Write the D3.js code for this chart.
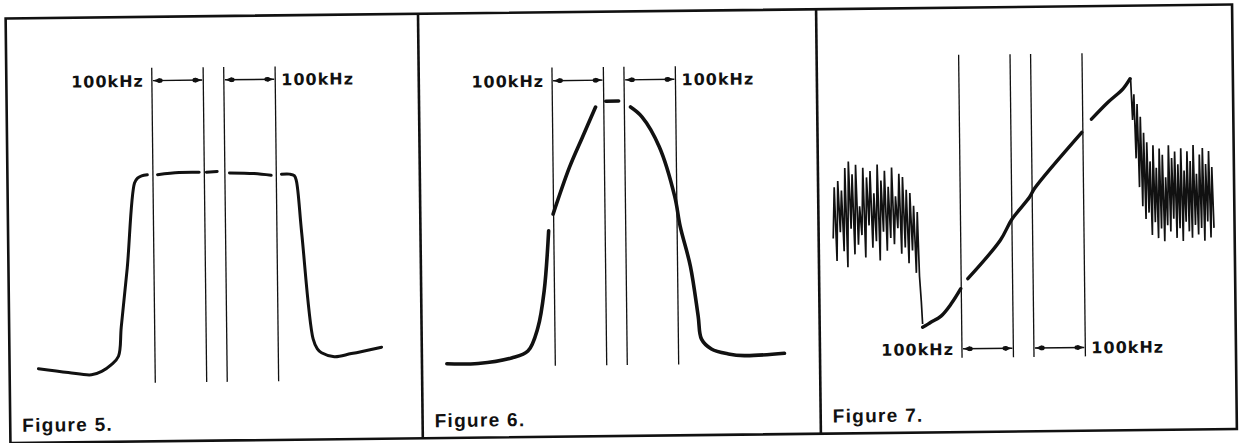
<!DOCTYPE html>
<html>
<head>
<meta charset="utf-8">
<script src="https://cdn.jsdelivr.net/npm/d3@7"></script>
<style>
  html, body { margin: 0; padding: 0; background: #fff; }
  svg { display: block; }
</style>
</head>
<body>
<svg id="chart" width="1242" height="443"></svg>
<script>
// Captions and annotation text
const figureLabels = ['Figure 5.', 'Figure 6.', 'Figure 7.'];
const markerKHz = [-120, -20, 20, 120];
const spanLabel = '100kHz';

// Figure 5 - flat topped passband. Offset in kHz, level 0..100 (screen units), null = break in trace
const fig5Freq = [-347, -289, -244, -224, -205, -191, -185, -172, -156, -150, -142, -131, null,
  -111, -69, -30, null, -16, 5, null, 29, 77, 110, null,
  130, 146, 155, 159, 168, 188, 196, 204, 229, 262, 321];
const fig5Level = [7.3, 6.0, 5.2, 6.25, 8.3, 10.9, 20, 38.5, 65, 66.5, 67.2, 67.5, null,
  67.5, 68.1, 68.1, null, 68.1, 68.3, null, 67.8, 67.5, 66.9, null,
  67.2, 67.2, 66.7, 65, 49, 15.6, 12.5, 11.25, 10, 10.9, 12.8];

// Figure 6 - peaked response
const fig6Freq = [-331, -270, -205, -173, -153, -140, -130, null,
  -121, -88, -62, -36, null, -16, 9, null,
  32, 54, 87, 116, 126, 145, 159, 165, 184, 217, 248, 326];
const fig6Level = [8.8, 8.8, 10.4, 12.5, 19.8, 31.3, 50, null,
  55.2, 69.8, 79.2, 88.5, null, 90.3, 90.3, null,
  88.4, 85.3, 75.9, 60.3, 50.9, 38.4, 22.8, 15.6, 12.5, 10.9, 10.3, 10.9];

// Figure 7 - discriminator ramp with noise outside the band
const fig7RampFreq = [-196, -190, -180, -160, -140, -121, null, -107, -43, -20, 15, 25, 118, null, 137, 170, 199, 213];
const fig7RampLevel = [20, 20.5, 21.5, 23.4, 27.2, 31.9, null, 35, 46.9, 53.4, 60.3, 63, 80.3, null, 84.4, 89.7, 93.75, 96.9];

const fig7NoiseLeftFreq = [-368, -365, -361, -358, -354, -351, -347, -344, -340, -337, -333, -330,
  -326, -323, -319, -316, -312, -309, -305, -302, -298, -295, -291, -288, -284, -281, -277, -274,
  -270, -267, -263, -260, -256, -253, -249, -246, -242, -239, -235, -232, -228, -225, -221, -218,
  -214, -211, -207, -204, -201, -198, -196];
const fig7NoiseLeftLevel = [48, 64, 41, 66, 50, 63, 44, 70, 39, 72, 51, 68, 43, 71, 46, 58, 49, 70,
  42, 67, 52, 69, 45, 62, 47, 71, 41, 66, 50, 69, 44, 64, 48, 70, 46, 61, 51, 68, 43, 67,
  45, 63, 40, 62, 44, 58, 37, 56, 36, 28, 21];

const fig7NoiseRightFreq = [214, 217, 220, 223, 226, 229, 232, 235, 238, 241, 244, 247, 250, 253,
  256, 259, 262, 265, 268, 271, 274, 277, 280, 283, 286, 289, 292, 295, 298, 301, 304, 307, 310,
  313, 316, 319, 322, 325, 328, 331, 334, 337, 340, 343, 346, 349, 352, 355, 358, 361, 364, 367, 370, 373];
const fig7NoiseRightLevel = [97, 84, 92, 72, 89, 63, 85, 57, 80, 53, 77, 55, 71, 48, 76, 52, 69, 47,
  75, 50, 73, 46, 66, 51, 76, 49, 72, 53, 74, 47, 70, 50, 75, 46, 68, 52, 74, 49, 71, 47,
  76, 51, 67, 48, 73, 50, 75, 46, 70, 52, 74, 47, 69, 50];

// ---- layout (the scan is tilted slightly, so everything sits in a rotated group)
const width = 1242;
const height = 443;
const ink = '#111';
const frame = { left: 8, top: 11.5, right: 1234.5, bottom: 436 };
const dividers = [420.4, 818.5];
const panelLeft = [frame.left, dividers[0], dividers[1]];
const pxPerKHz = 0.514;

const panels = [
  { cx: 215.2, dy: -4.6, top: 100.9, bottom: 2.5, span: 96.9, width: 3 },
  { cx: 615.4, dy: 0, top: 101, bottom: 7.8, span: 96.9, width: 3.6 },
  { cx: 1022.2, dy: 4.6, top: 105, bottom: 10.3, span: 13.1, width: 3.4 },
];

panels.forEach((p) => {
  p.x = d3.scaleLinear().domain([-400, 400]).range([p.cx - 400 * pxPerKHz, p.cx + 400 * pxPerKHz]);
  p.y = d3.scaleLinear().domain([0, 100]).range([390 + p.dy, 70 + p.dy]);
});

const svg = d3.select('#chart');

// arrow head with a bead behind it, as in the scanned drawing
const defs = svg.append('defs');
['start', 'end'].forEach((k) => {
  const m = defs.append('marker')
    .attr('id', `arrow-${k}`)
    .attr('viewBox', '0 0 12 8')
    .attr('refX', k === 'end' ? 12 : 0)
    .attr('refY', 4)
    .attr('markerWidth', 12)
    .attr('markerHeight', 8)
    .attr('markerUnits', 'userSpaceOnUse')
    .attr('orient', 'auto');
  m.append('path')
    .attr('d', k === 'end' ? 'M12,4L5,1.6L5,6.4Z' : 'M0,4L7,1.6L7,6.4Z')
    .attr('fill', ink);
  m.append('ellipse')
    .attr('cx', k === 'end' ? 5 : 7)
    .attr('cy', 4)
    .attr('rx', 2.8)
    .attr('ry', 2.3)
    .attr('fill', ink);
});

const root = svg.append('g')
  .attr('transform', `rotate(-0.65 ${width / 2} 224)`);

// outer frame and panel dividers
root.append('rect')
  .attr('x', frame.left)
  .attr('y', frame.top)
  .attr('width', frame.right - frame.left)
  .attr('height', frame.bottom - frame.top)
  .attr('fill', 'none')
  .attr('stroke', ink)
  .attr('stroke-width', 2.6);

root.selectAll('line.divider')
  .data(dividers)
  .enter()
  .append('line')
  .attr('class', 'divider')
  .attr('x1', (d) => d)
  .attr('x2', (d) => d)
  .attr('y1', frame.top)
  .attr('y2', frame.bottom)
  .attr('stroke', ink)
  .attr('stroke-width', 2.6);

const toPoints = (freq, level) => freq.map((f, i) => ({ f, l: level[i] }));

const traces = [
  [toPoints(fig5Freq, fig5Level)],
  [toPoints(fig6Freq, fig6Level)],
  [toPoints(fig7RampFreq, fig7RampLevel)],
];
const noise = [[], [], [
  toPoints(fig7NoiseLeftFreq, fig7NoiseLeftLevel),
  toPoints(fig7NoiseRightFreq, fig7NoiseRightLevel),
]];

panels.forEach((p, i) => {
  const g = root.append('g').attr('class', `panel-${i}`);

  // frequency markers
  g.selectAll('line.marker')
    .data(markerKHz)
    .enter()
    .append('line')
    .attr('x1', (d) => p.x(d))
    .attr('x2', (d) => p.x(d))
    .attr('y1', p.y(p.top))
    .attr('y2', p.y(p.bottom))
    .attr('stroke', ink)
    .attr('stroke-width', 1.3);

  // 100 kHz span arrows
  const spans = [[markerKHz[0], markerKHz[1]], [markerKHz[2], markerKHz[3]]];
  g.selectAll('line.span')
    .data(spans)
    .enter()
    .append('line')
    .attr('x1', (d) => p.x(d[0]) + 1)
    .attr('x2', (d) => p.x(d[1]) - 1)
    .attr('y1', p.y(p.span))
    .attr('y2', p.y(p.span))
    .attr('stroke', ink)
    .attr('stroke-width', 1.4)
    .attr('marker-start', 'url(#arrow-start)')
    .attr('marker-end', 'url(#arrow-end)');

  const labelY = p.y(p.span) + 6;
  g.append('text')
    .attr('x', p.x(markerKHz[0]) - 8)
    .attr('y', labelY)
    .attr('text-anchor', 'end')
    .text(spanLabel);
  g.append('text')
    .attr('x', p.x(markerKHz[3]) + 6)
    .attr('y', labelY)
    .attr('text-anchor', 'start')
    .text(spanLabel);
  g.selectAll('text')
    .style('font-family', '"DejaVu Sans", sans-serif')
    .style('font-weight', 'bold')
    .style('font-size', '16px')
    .style('letter-spacing', '1px')
    .attr('fill', ink);

  const line = d3.line()
    .defined((d) => d.l != null)
    .x((d) => p.x(d.f))
    .y((d) => p.y(d.l))
    .curve(d3.curveCatmullRom.alpha(0.5));

  g.selectAll('path.trace')
    .data(traces[i])
    .enter()
    .append('path')
    .attr('d', line)
    .attr('fill', 'none')
    .attr('stroke', ink)
    .attr('stroke-width', p.width)
    .attr('stroke-linecap', 'round')
    .attr('stroke-linejoin', 'round');

  const zigzag = d3.line()
    .x((d) => p.x(d.f))
    .y((d) => p.y(d.l));

  g.selectAll('path.noise')
    .data(noise[i])
    .enter()
    .append('path')
    .attr('d', zigzag)
    .attr('fill', 'none')
    .attr('stroke', ink)
    .attr('stroke-width', 1.7)
    .attr('stroke-linejoin', 'miter');

  // caption
  root.append('text')
    .attr('x', panelLeft[i] + 12)
    .attr('y', 425)
    .style('font-family', '"Liberation Sans", Arial, sans-serif')
    .style('font-weight', 'bold')
    .style('font-size', '19px')
    .style('letter-spacing', '1.3px')
    .attr('fill', ink)
    .text(figureLabels[i]);
});
</script>
</body>
</html>
